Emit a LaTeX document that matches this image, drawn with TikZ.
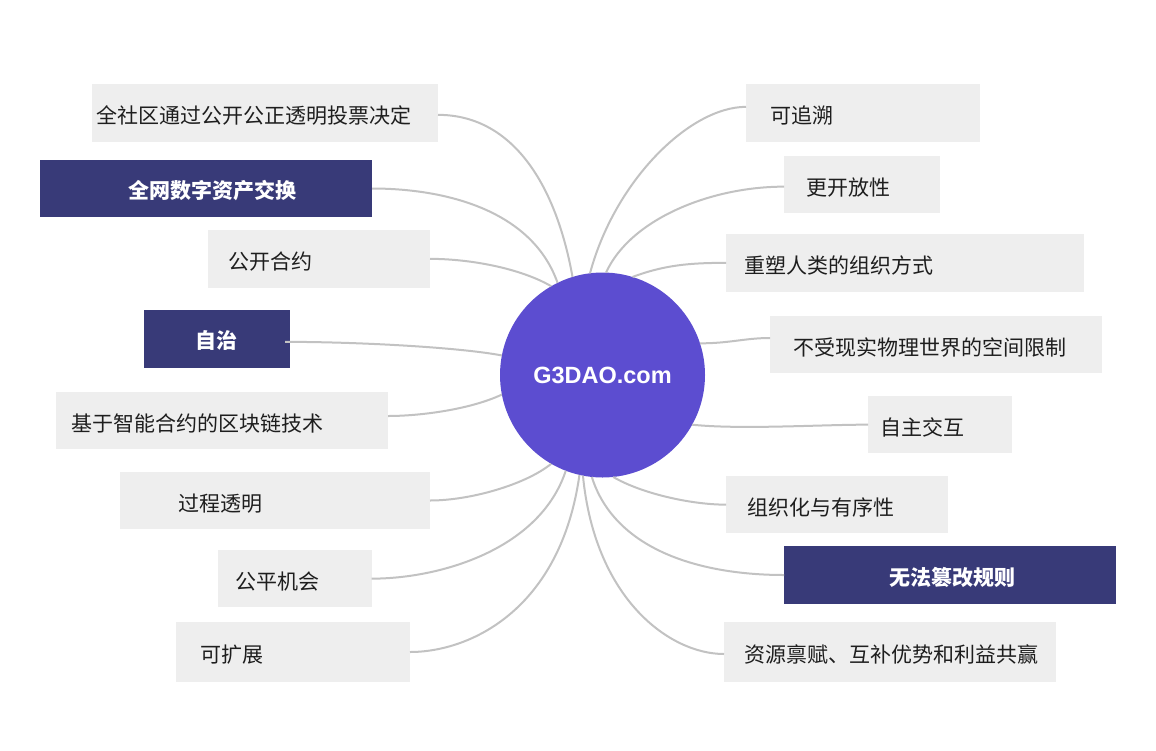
\documentclass[tikz,border=0pt]{standalone}
\usepackage{fontspec}
\setmainfont{Liberation Sans}
\newfontfamily\cjk{Noto Sans CJK SC}
\definecolor{boxgray}{HTML}{EEEEEE}
\definecolor{boxdark}{HTML}{383A78}
\definecolor{hub}{HTML}{5C4DD0}
\definecolor{wirec}{HTML}{C2C2C2}
\definecolor{ink}{HTML}{1E1E1E}
\tikzset{
  gbox/.style={fill=boxgray, text=ink, anchor=north west, inner ysep=0pt, inner xsep=0pt,
    outer sep=0pt, align=left, text height=21pt, text depth=0pt,
    font=\cjk\fontsize{21}{25}\selectfont},
  dbox/.style={gbox, fill=boxdark, text=white, text height=20pt,
    font=\cjk\bfseries\fontsize{21}{25}\selectfont},
  wire/.style={draw=wirec, line width=2pt},
}
\begin{document}
\begin{tikzpicture}[x=1pt,y=-1pt]
\fill[white] (0,0) rectangle (1156,750);
\useasboundingbox (0,0) rectangle (1156,750);
% left boxes
\node[gbox, minimum width=346pt, minimum height=57.7pt, text width=336.6pt] (l1) at (92,84) {全社区通过公开公正透明投票决定};
\node[dbox, minimum width=332pt, minimum height=57pt, text width=156pt] (l2) at (40,160) {全网数字资产交换};
\node[gbox, minimum width=222pt, minimum height=57.7pt, text width=182pt] (l3) at (208,230) {公开合约};
\node[dbox, minimum width=146pt, minimum height=57.7pt, text width=44pt] (l4) at (144,310) {自治};
\node[gbox, minimum width=332pt, minimum height=57pt, text width=300.6pt] (l5) at (56,392) {基于智能合约的区块链技术};
\node[gbox, minimum width=310pt, minimum height=57.6pt, text width=194pt] (l6) at (120,471.7) {过程透明};
\node[gbox, minimum width=153.7pt, minimum height=57.3pt, text width=119.7pt] (l7) at (218,550) {公平机会};
\node[gbox, minimum width=234pt, minimum height=59.4pt, text width=184.6pt] (l8) at (176,622.3) {可扩展};
% right boxes
\node[gbox, minimum width=234pt, minimum height=57.7pt, text width=184.6pt] (r1) at (746,84) {可追溯};
\node[gbox, minimum width=156pt, minimum height=57.3pt, text width=112pt] (r2) at (784,156) {更开放性};
\node[gbox, minimum width=358pt, minimum height=57.7pt, text width=322pt] (r3) at (726,234) {重塑人类的组织方式};
\node[gbox, minimum width=332pt, minimum height=57pt, text width=286pt] (r4) at (770,316) {不受现实物理世界的空间限制};
\node[gbox, minimum width=144pt, minimum height=57.3pt, text width=120pt] (r5) at (868,396) {自主交互};
\node[gbox, minimum width=221.7pt, minimum height=57.3pt, text width=179.7pt] (r6) at (726,476) {组织化与有序性};
\node[dbox, minimum width=332pt, minimum height=58pt, text width=122pt] (r7) at (784,546) {无法篡改规则};
\node[gbox, minimum width=331.7pt, minimum height=59.4pt, text width=291.7pt] (r8) at (724,622.3) {资源禀赋、互补优势和利益共赢};
% hub
\node[circle, fill=hub, minimum size=205pt, inner sep=0pt, outer sep=0pt, text=white,
  font=\bfseries\fontsize{23.5}{28}\selectfont] (g) at (602.5,375) {G3DAO.com};
% connectors
\draw[wire] (g.107) .. controls +(-17.5,-97) and +(72,0) .. ([yshift=-2pt]l1.east);
\draw[wire] (g.116) .. controls +(-25.6,-72.9) and +(73,0) .. (l2.east);
\draw[wire] (g.120) .. controls +(-31,-18) and +(40,0) .. (l3.east);
\draw[wire] (g.169) .. controls +(-42,-8) and +(75,0) .. ([xshift=-5pt,yshift=-3pt]l4.east);
\draw[wire] (g.191) .. controls +(-32,15) and +(32,0) .. ([yshift=4.5pt]l5.east);
\draw[wire] (g.240) .. controls +(-26,21) and +(40,0) .. (l6.east);
\draw[wire] (g.249) .. controls +(-26,79) and +(68,0) .. (l7.east);
\draw[wire] (g.257) .. controls +(-19,135) and +(60,0) .. (l8.east);
\draw[wire] (g.97) .. controls +(25,-93) and +(-56,0) .. ([yshift=6pt]r1.west);
\draw[wire] (g.88) .. controls +(24,-53) and +(-74,0) .. ([yshift=-2pt]r2.west);
\draw[wire] (g.73) .. controls +(32,-12) and +(-36,0) .. (r3.west);
\draw[wire] (g.18) .. controls +(30,0) and +(-25,0) .. ([yshift=6.5pt]r4.west);
\draw[wire] (g.331) .. controls +(48,5) and +(-48,0) .. (r5.west);
\draw[wire] (g.276) .. controls +(27,16) and +(-36,0) .. (r6.west);
\draw[wire] (g.264) .. controls +(23,73) and +(-84,0) .. (r7.west);
\draw[wire] (g.259) .. controls +(12,124) and +(-54,0) .. ([yshift=-2pt]r8.west);
\end{tikzpicture}
\end{document}
